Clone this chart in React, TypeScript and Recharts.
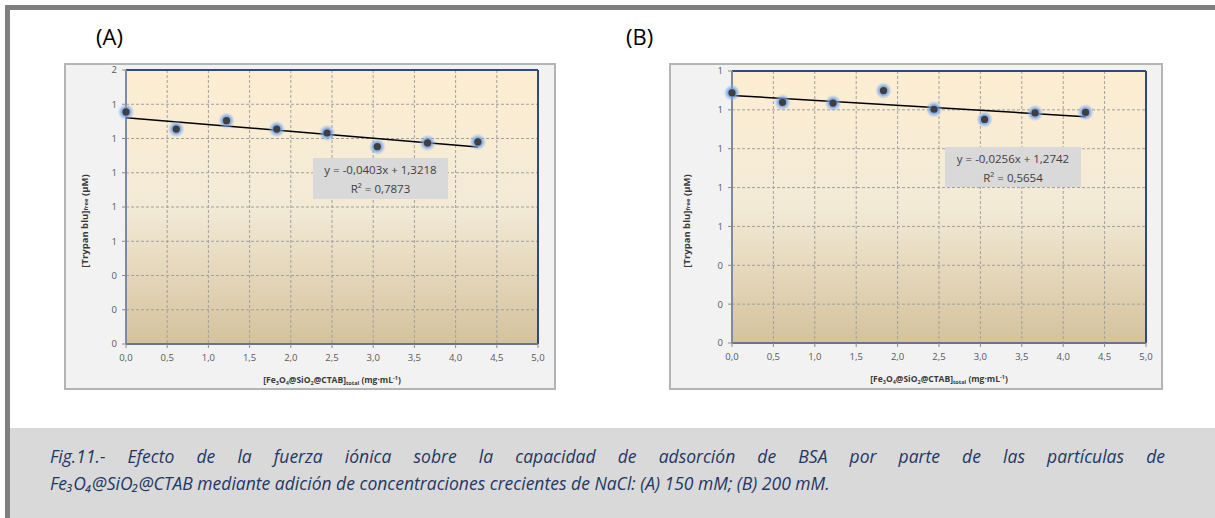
import React from "react";
import {
  ScatterChart,
  Scatter,
  XAxis,
  YAxis,
  CartesianGrid,
  ReferenceLine,
  Label,
} from "recharts";

// x positions of the samples (mg/mL), shared by both panels
const xValues = [0, 0.61, 1.22, 1.83, 2.44, 3.05, 3.66, 4.27];
// (A) 150 mM NaCl
const yValuesA = [1.355, 1.255, 1.304, 1.255, 1.232, 1.152, 1.174, 1.18];
// (B) 200 mM NaCl
const yValuesB = [1.288, 1.239, 1.235, 1.299, 1.203, 1.151, 1.184, 1.187];

const slopeA = -0.0403;
const interceptA = 1.3218;
const r2A = "0,7873";
const slopeB = -0.0256;
const interceptB = 1.2742;
const r2B = "0,5654";

const xTicks = [0, 0.5, 1, 1.5, 2, 2.5, 3, 3.5, 4, 4.5, 5];
const yTicksA = [0, 0.2, 0.4, 0.6, 0.8, 1.0, 1.2, 1.4, 1.6];
const yTicksB = [0, 0.2, 0.4, 0.6, 0.8, 1.0, 1.2, 1.4];

const FONT = "'Open Sans', 'Noto Sans', sans-serif";

const fmtX = (v: number) => v.toFixed(1).replace(".", ",");
const fmtY = (v: number) => String(Math.round(v));
const fmtCoef = (v: number) => v.toFixed(4).replace(".", ",");

const GlowDot = (props: any) => {
  const { cx, cy } = props;
  if (cx == null || cy == null) return <g />;
  return (
    <g>
      <circle cx={cx} cy={cy} r={8.5} fill="url(#glow)" />
      <circle cx={cx} cy={cy} r={3.6} fill="#3f3f3f" />
    </g>
  );
};

const NoDot = () => <g />;

const YTitle = (props: any) => {
  const vb = props.viewBox || {};
  const cx = vb.x + 12;
  const cy = vb.y + vb.height / 2 + 14;
  return (
    <text
      x={cx}
      y={cy}
      transform={`rotate(-90 ${cx} ${cy})`}
      textAnchor="middle"
      dominantBaseline="central"
      fontFamily={FONT}
      fontSize={9.5}
      fontWeight="bold"
      fill="#3a3a3a"
    >
      [Trypan blu]
      <tspan fontSize={6} dy={2}>
        free
      </tspan>
      <tspan dy={-2}> (µM)</tspan>
    </text>
  );
};

const XTitle = (props: any) => {
  const vb = props.viewBox || {};
  const cx = vb.x + vb.width / 2;
  const cy = vb.y + 39;
  return (
    <text
      x={cx}
      y={cy}
      textAnchor="middle"
      fontFamily={FONT}
      fontSize={8.5}
      fontWeight="bold"
      fill="#3a3a3a"
    >
      [Fe
      <tspan fontSize={5.5} dy={2}>3</tspan>
      <tspan dy={-2}>O</tspan>
      <tspan fontSize={5.5} dy={2}>4</tspan>
      <tspan dy={-2}>@SiO</tspan>
      <tspan fontSize={5.5} dy={2}>2</tspan>
      <tspan dy={-2}>@CTAB]</tspan>
      <tspan fontSize={5.5} dy={2}>total</tspan>
      <tspan dy={-2}> (mg·mL</tspan>
      <tspan fontSize={5.5} dy={-3}>-1</tspan>
      <tspan dy={3}>)</tspan>
    </text>
  );
};

type PanelProps = {
  id: string;
  left: number;
  width: number;
  ys: number[];
  yTicks: number[];
  slope: number;
  intercept: number;
  r2: string;
  margin: { top: number; right: number; bottom: number; left: number };
  yAxisWidth: number;
  eqBox: { left: number; top: number; width: number; height: number };
};

function Panel(p: PanelProps) {
  const points = xValues.map((x, i) => ({ x, y: p.ys[i] }));
  const lastX = xValues[xValues.length - 1];
  const trend = [
    { x: 0, y: p.intercept },
    { x: lastX, y: p.intercept + p.slope * lastX },
  ];
  const yMax = p.yTicks[p.yTicks.length - 1];
  const sign = p.slope < 0 ? "-" : "";
  return (
    <div
      style={{
        position: "absolute",
        left: p.left,
        top: 63,
        width: p.width,
        height: 327,
        boxSizing: "border-box",
        border: "2px solid #b4b4b4",
        background: "#f2f2f2",
      }}
    >
      <div style={{ position: "absolute", left: -2, top: -2 }}>
        <ScatterChart width={p.width} height={327} margin={p.margin}>
          <defs>
            <linearGradient id={`bg${p.id}`} x1="0" y1="0" x2="0" y2="1">
              <stop offset="0%" stopColor="#fdeed2" />
              <stop offset="50%" stopColor="#f3ead6" />
              <stop offset="100%" stopColor="#d4c29c" />
            </linearGradient>
            <radialGradient id="glow">
              <stop offset="0%" stopColor="#3f7fe0" stopOpacity={1} />
              <stop offset="55%" stopColor="#6f9fea" stopOpacity={0.75} />
              <stop offset="100%" stopColor="#9cc0f2" stopOpacity={0} />
            </radialGradient>
          </defs>
          <CartesianGrid
            fill={`url(#bg${p.id})`}
            stroke="#a0a0a0"
            strokeDasharray="3 2"
          />
          <XAxis
            dataKey="x"
            type="number"
            domain={[0, 5]}
            ticks={xTicks}
            tickFormatter={fmtX}
            height={40}
            axisLine={{ stroke: "#66758c", strokeWidth: 2 }}
            tickLine={{ stroke: "#8a8a8a" }}
            tickSize={4}
            tickMargin={6}
            tick={{ fontSize: 9.5, fill: "#595959", fontFamily: FONT }}
            interval={0}
          >
            <Label content={<XTitle />} />
          </XAxis>
          <YAxis
            dataKey="y"
            type="number"
            domain={[0, yMax]}
            ticks={p.yTicks}
            tickFormatter={fmtY}
            width={p.yAxisWidth}
            axisLine={{ stroke: "#7d8aa0", strokeWidth: 2 }}
            tickLine={{ stroke: "#8a8a8a" }}
            tickSize={4}
            tickMargin={5}
            tick={{ fontSize: 9.5, fill: "#595959", fontFamily: FONT }}
            interval={0}
          >
            <Label content={<YTitle />} />
          </YAxis>
          <ReferenceLine y={yMax} stroke="#2c4a86" strokeWidth={2} />
          <ReferenceLine x={5} stroke="#2c4a86" strokeWidth={2} />
          <Scatter
            data={trend}
            line={{ stroke: "#000", strokeWidth: 1.5 }}
            shape={<NoDot />}
            isAnimationActive={false}
          />
          <Scatter data={points} shape={<GlowDot />} isAnimationActive={false} />
        </ScatterChart>
      </div>
      <div
        style={{
          position: "absolute",
          left: p.eqBox.left,
          top: p.eqBox.top,
          width: p.eqBox.width,
          height: p.eqBox.height,
          background: "#d9d9d9",
          fontFamily: FONT,
          fontSize: 11.5,
          color: "#404040",
          textAlign: "center",
          lineHeight: "19px",
          paddingTop: 2,
          boxSizing: "border-box",
        }}
      >
        <div>
          y = {sign}
          {fmtCoef(Math.abs(p.slope))}x + {fmtCoef(p.intercept)}
        </div>
        <div>R² = {p.r2}</div>
      </div>
    </div>
  );
}

export default function App() {
  return (
    <div
      style={{
        position: "absolute",
        left: 0,
        top: 0,
        width: 1215,
        height: 518,
        background: "#fff",
        overflow: "hidden",
      }}
    >
      <div
        style={{
          position: "absolute",
          left: 5,
          top: 5,
          width: 1220,
          height: 520,
          borderLeft: "5px solid #7f7f7f",
          borderTop: "5px solid #7f7f7f",
        }}
      />
      <div
        style={{
          position: "absolute",
          left: 96,
          top: 21,
          fontFamily: FONT,
          fontSize: 22,
          color: "#000",
        }}
      >
        (A)
      </div>
      <div
        style={{
          position: "absolute",
          left: 626,
          top: 21,
          fontFamily: FONT,
          fontSize: 22,
          color: "#000",
        }}
      >
        (B)
      </div>
      <Panel
        id="A"
        left={64}
        width={492}
        ys={yValuesA}
        yTicks={yTicksA}
        slope={slopeA}
        intercept={interceptA}
        r2={r2A}
        margin={{ top: 7, right: 18, bottom: 6, left: 8 }}
        yAxisWidth={54}
        eqBox={{ left: 247, top: 93, width: 135, height: 41 }}
      />
      <Panel
        id="B"
        left={669}
        width={494}
        ys={yValuesB}
        yTicks={yTicksB}
        slope={slopeB}
        intercept={interceptB}
        r2={r2B}
        margin={{ top: 8, right: 17, bottom: 7, left: 5 }}
        yAxisWidth={58}
        eqBox={{ left: 274, top: 82, width: 136, height: 40 }}
      />
      <div
        style={{
          position: "absolute",
          left: 10,
          top: 428,
          width: 1205,
          height: 90,
          background: "#d9d9d9",
          fontFamily: FONT,
          fontStyle: "italic",
          fontWeight: 500,
          fontSize: 17.5,
          color: "#1f3864",
        }}
      >
        <div
          style={{
            position: "absolute",
            left: 40,
            top: 16,
            width: 1115,
            textAlign: "justify",
            textAlignLast: "justify",
            lineHeight: "24px",
            whiteSpace: "nowrap",
          }}
        >
          Fig.11.- Efecto de la fuerza iónica sobre la capacidad de adsorción de
          BSA por parte de las partículas de
        </div>
        <div
          style={{
            position: "absolute",
            left: 40,
            top: 43,
            lineHeight: "24px",
            whiteSpace: "nowrap",
          }}
        >
          Fe₃O₄@SiO₂@CTAB mediante adición de concentraciones crecientes de
          NaCl: (A) 150 mM; (B) 200 mM.
        </div>
      </div>
    </div>
  );
}
